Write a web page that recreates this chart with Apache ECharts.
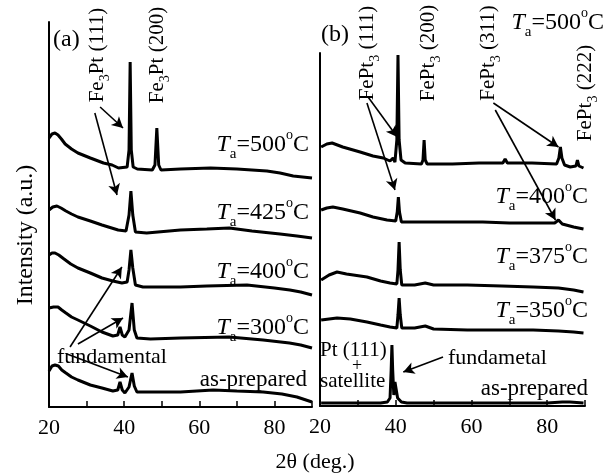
<!DOCTYPE html>
<html>
<head>
<meta charset="utf-8">
<script src="https://cdn.jsdelivr.net/npm/echarts@6/dist/echarts.min.js"></script>
<style>
  html, body { margin: 0; padding: 0; background: #fff; }
  #chart { width: 613px; height: 476px; }
</style>
</head>
<body>
<div id="chart"></div>
<script>
// x ticks shown on both panels
var tickLabels = [20, 40, 60, 80];

// panel (a) traces, [2theta, intensity a.u.]
var a500 = [[20,269],[20.8,273],[21.6,274],[22.4,272],[23.3,268],[24.3,263],[26,258],[27.7,254],[31,249],[34.5,244],[36.8,242],[38.5,239],[40.8,240],[41.3,257],[41.6,345],[41.9,257],[42.4,240],[43.5,238],[47.5,237],[48.2,242],[48.7,279],[49.2,242],[49.8,237],[55,238],[63,239],[70,238],[74,237],[78,236],[81.5,234],[85,231],[90,229]];
var a425 = [[20,197],[21,200],[22.1,201],[23.2,199],[24.5,196],[26,193],[27.7,190],[31,186],[34.1,182],[38.4,177],[40.5,176],[41.3,192],[41.8,216],[42.3,192],[43,175],[46,174],[55,177],[62,178],[68,179],[74,176],[81.5,173],[86,171],[90,169]];
var a400 = [[20,152],[20.8,154],[21.6,154],[22.6,152],[24,148],[25.8,143],[27.7,139],[31,134],[34.1,129],[37,126],[39.4,124],[40.8,125],[41.3,137],[41.8,157],[42.3,139],[43,122],[45,120],[55,120],[62,121],[72.7,122],[80,119],[84.1,117],[87,115],[90,112]];
var a300 = [[20,99],[21.2,100],[22.4,100],[23.4,97],[24.5,94],[26,90],[27.7,87],[31,81],[34.1,75],[37,71],[38.3,72],[38.9,80],[39.5,72],[40.2,70],[41.3,77],[42.1,104],[42.7,77],[43.4,69],[47,68],[55,69],[68,70],[77,67],[84,64],[87,62],[90,59]];
var aPrep = [[20,36],[20.8,41],[21.6,42],[22.5,41],[23.4,37],[24.5,34],[26,30],[27.7,27],[31,22],[34.1,19],[37,16],[38.3,17],[38.9,25],[39.5,17],[40.2,14],[41.3,20],[42.1,34],[42.7,21],[43.4,15],[50,15],[55,15],[63.7,17],[70,16],[77,15],[82,13],[86,10],[90,5]];

// panel (b) traces
var b500 = [[20.3,259],[21.8,262],[23.2,263],[24.6,261],[26,259],[30.6,254],[34,250],[36.7,248],[38.5,245],[39.3,248],[39.8,244],[40.3,266],[40.6,351],[40.9,266],[41.4,246],[42.5,243],[46.8,242],[47.2,246],[47.5,266],[47.8,246],[48.3,242],[55,242],[62,243],[68.3,243],[68.9,247],[69.5,243],[76,243],[82.5,242],[83.1,248],[83.5,259],[83.9,248],[84.6,241],[86.1,239],[87.6,240],[88,246],[88.4,240],[89.6,238]];
var b400 = [[20.3,196],[21.8,198],[23.4,199],[26,197],[30.6,193],[34,189],[37.7,186],[40,185],[40.4,194],[40.7,209],[41,194],[41.5,184],[45,184],[55,184],[63,184],[70,183],[76.3,183],[82,183],[83,186],[84,182],[87,179],[89.6,177]];
var b375 = [[20.3,126],[22.4,131],[24.5,134],[27,132],[32.4,129],[36,125],[38.5,123],[40.3,122],[40.6,136],[40.9,164],[41.2,136],[41.6,121],[45,121],[47.8,123],[50,121],[58.9,121],[68,120],[76.3,119],[83,118],[87,116],[89.6,114]];
var b350 = [[20.3,86],[24.5,88],[28,87],[32.4,84],[36,81],[38.5,79],[40.3,78],[40.6,91],[40.9,108],[41.2,91],[41.6,78],[45,78],[47.8,80],[50,77],[58.9,76],[68,76],[76.3,76],[83,75],[87,74],[89.6,73]];
var bPrep = [[20.3,3],[30,3],[36,3],[37.8,4],[38.5,8],[38.8,36],[39,61],[39.2,36],[39.5,11],[39.8,24],[40.1,22],[40.5,8],[41.5,4],[43,3],[50,3],[60,3],[70,3],[80,3],[84,4],[86,4],[89.6,3]];

// arrows [from, to]
var arrowsA = [[[33.6,300],[39.7,279]],[[32.2,294],[38.1,212]],[[25.6,60],[39.4,140]],[[27.7,63],[39.7,89]],[[24.8,53],[41.0,30]]];
var arrowsB = [[[32.7,309],[40.4,269]],[[32.4,303],[39.8,216]],[[65.8,303],[83.0,259]],[[66.3,296],[82.2,186]],[[52.5,49],[42.0,34]]];

var serif = '"Liberation Serif", "DejaVu Serif", serif';

var taRich = {
    t: { fontFamily: serif, fontSize: 24, fontStyle: 'italic', lineHeight: 34, fill: '#000' },
    n: { fontFamily: serif, fontSize: 24, lineHeight: 34, fill: '#000' },
    s: { fontFamily: serif, fontSize: 15, lineHeight: 15, verticalAlign: 'bottom', fill: '#000' },
    o: { fontFamily: serif, fontSize: 14, lineHeight: 15, verticalAlign: 'top', fill: '#000' }
};
var subRich = {
    n: { fontFamily: serif, fontSize: 21, lineHeight: 30, fill: '#000' },
    s: { fontFamily: serif, fontSize: 14, lineHeight: 14, verticalAlign: 'bottom', fill: '#000' }
};

function taText(val, right, cy) {
    return {
        type: 'text', x: right, y: cy,
        style: { text: '{t|T}{s|a}{n|=' + val + '}{o|o}{n|C}', rich: taRich, align: 'right', verticalAlign: 'middle' }
    };
}
function peakText(name, hkl, cx, cy) {
    // rotated so it reads bottom to top
    var txt = name === 'Fe3Pt' ? '{n|Fe}{s|3}{n|Pt (' + hkl + ')}' : '{n|FePt}{s|3}{n| (' + hkl + ')}';
    return {
        type: 'text', x: cx, y: cy, rotation: Math.PI / 2,
        style: { text: txt, rich: subRich, align: 'center', verticalAlign: 'middle' }
    };
}
function plainText(str, x, cy, align, size) {
    return {
        type: 'text', x: x, y: cy,
        style: { text: str, font: (size || 22) + 'px ' + serif, fill: '#000', align: align, verticalAlign: 'middle' }
    };
}

function trace(data, idx) {
    return {
        type: 'line', xAxisIndex: idx, yAxisIndex: idx, data: data,
        showSymbol: false, symbol: 'none', clip: false,
        lineStyle: { color: '#000', width: 3 }
    };
}
function arrows(list, idx) {
    return {
        type: 'line', xAxisIndex: idx, yAxisIndex: idx, data: [], silent: true,
        markLine: {
            silent: true, animation: false,
            label: { show: false },
            lineStyle: { color: '#000', width: 1.6, type: 'solid' },
            symbolSize: [9, 11],
            data: list.map(function (a) {
                return [{ coord: a[0], symbol: 'none' }, { coord: a[1], symbol: 'arrow' }];
            })
        }
    };
}

function xAxisOf(idx) {
    return {
        type: 'value', gridIndex: idx, min: 20, max: 90, interval: 10,
        axisLine: { lineStyle: { color: '#000', width: 2 } },
        axisTick: { inside: true, length: 6, lineStyle: { color: '#000', width: 1.5 } },
        splitLine: { show: false },
        axisLabel: {
            color: '#000', fontFamily: serif, fontSize: 22, margin: 10,
            formatter: function (v) { return tickLabels.indexOf(v) >= 0 ? String(v) : ''; }
        }
    };
}
function yAxisOf(idx, max) {
    return {
        type: 'value', gridIndex: idx, min: 0, max: max,
        axisLine: { show: true, lineStyle: { color: '#000', width: 2 } },
        axisTick: { show: false }, axisLabel: { show: false }, splitLine: { show: false }
    };
}

var chart = echarts.init(document.getElementById('chart'));
chart.setOption({
    animation: false,
    backgroundColor: '#fff',
    grid: [
        { left: 49, top: 22, width: 263, height: 385 },
        { left: 320, top: 53, width: 265, height: 353 }
    ],
    xAxis: [xAxisOf(0), xAxisOf(1)],
    yAxis: [yAxisOf(0, 385), yAxisOf(1, 353)],
    series: [
        trace(a500, 0), trace(a425, 0), trace(a400, 0), trace(a300, 0), trace(aPrep, 0),
        trace(b500, 1), trace(b400, 1), trace(b375, 1), trace(b350, 1), trace(bPrep, 1),
        arrows(arrowsA, 0), arrows(arrowsB, 1)
    ],
    graphic: [
        plainText('(a)', 53, 40, 'left', 24),
        plainText('(b)', 321, 35, 'left', 24),
        peakText('Fe3Pt', '111', 97, 55),
        peakText('Fe3Pt', '200', 157, 55),
        peakText('FePt3', '111', 367, 53),
        peakText('FePt3', '200', 428, 53),
        peakText('FePt3', '311', 488, 53),
        peakText('FePt3', '222', 585, 93),
        taText('500', 309, 145),
        taText('425', 309, 213),
        taText('400', 309, 272),
        taText('300', 309, 328),
        taText('500', 604, 23),
        taText('400', 588, 197),
        taText('375', 588, 257),
        taText('350', 588, 311),
        plainText('fundamental', 57, 357, 'left', 22),
        plainText('as-prepared', 307, 380, 'right', 23),
        plainText('Pt (111)', 320, 350, 'left', 21),
        plainText('+', 357, 366, 'center', 18),
        plainText('satellite', 320, 381, 'left', 21),
        plainText('fundametal', 448, 358, 'left', 22),
        plainText('as-prepared', 588, 389, 'right', 23),
        plainText('2\u03b8 (deg.)', 315, 462, 'center', 22),
        {
            type: 'text', x: 26, y: 235, rotation: Math.PI / 2,
            style: { text: 'Intensity (a.u.)', font: '24px ' + serif, fill: '#000', align: 'center', verticalAlign: 'middle' }
        }
    ]
});
</script>
</body>
</html>
